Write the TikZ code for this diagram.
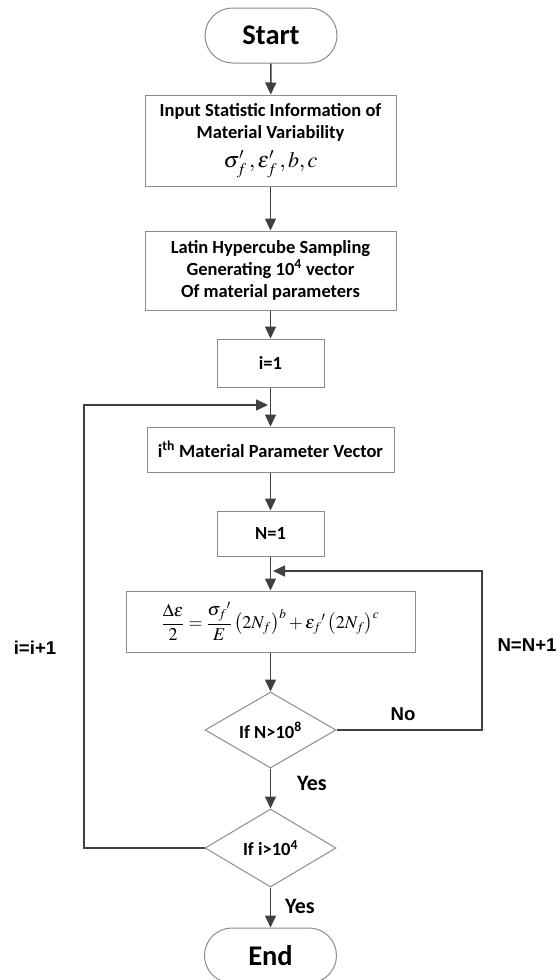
\documentclass[tikz,border=0pt]{standalone}
\usepackage{amsmath}
\usepackage{mathptmx}
\usepackage{fontspec}
\setmainfont{Carlito}
\newfontfamily\arialfont{Liberation Sans}
\usepackage{tikz}
\usetikzlibrary{shapes, arrows.meta, positioning, backgrounds}
\definecolor{boxgray}{HTML}{8C8C8C}
\definecolor{linegray}{HTML}{404040}
\tikzstyle{block} = [rectangle, minimum width=107pt, minimum height=48pt, text centered, align=center, draw=boxgray, line width=1pt, fill=white, font=\fontsize{18.5}{22}\selectfont\bfseries]
\tikzstyle{terminal} = [block, minimum width=132pt, minimum height=55pt, rounded corners=27.5pt, font=\fontsize{28.5}{30}\selectfont\bfseries]
\tikzstyle{decision} = [diamond, aspect=1.72, minimum width=131pt, minimum height=76pt, inner sep=0pt, draw=boxgray, line width=1pt, fill=white, font=\fontsize{18.5}{20}\selectfont\bfseries]
\tikzstyle{arrow} = [-{Triangle[length=12pt, width=11pt]}, draw=linegray, line width=1.5pt]
\tikzstyle{looplabel} = [font=\arialfont\fontsize{18.6}{20}\selectfont\bfseries]
\tikzstyle{yeslabel} = [font=\fontsize{22}{24}\selectfont\bfseries]

\begin{document}
\begin{tikzpicture}[x=1pt, y=-1pt]

    \fill [white] (0, 0) rectangle (558, 980);
    \useasboundingbox (0, 0) rectangle (558, 980);

    \node (start) [terminal] at (271, 35.5) {Start};
    \node (input) [block, minimum width=251pt, minimum height=91pt] at (270.5, 140.5)
        {Input Statistic Information of\\Material Variability\\[7pt]
         {\fontsize{22}{24}\selectfont$\sigma'_f\,,\varepsilon'_f\,,b,c$}};
    \node (lhs) [block, minimum width=251pt, minimum height=79pt] at (270.5, 270.5)
        {Latin Hypercube Sampling\\Generating 10\textsuperscript{4} vector\\Of material parameters};
    \node (initi) [block] at (270.5, 363) {i=1};
    \node (vector) [block, minimum width=247pt, minimum height=45pt] at (270.5, 449.5)
        {i\textsuperscript{th} Material Parameter Vector};
    \node (initN) [block, minimum height=45pt] at (270.5, 533.5) {N=1};
    \node (life) [block, minimum width=289pt, minimum height=61pt] at (270.5, 621.5)
        {\fontsize{18}{20}\selectfont$\dfrac{\Delta\varepsilon}{2}=\dfrac{\sigma_f{}'}{E}\left(2N_f\right)^b+\varepsilon_f{}'\left(2N_f\right)^c$};
    \node (checkN) [decision] at (270.5, 730) {If N>10\textsuperscript{8}};
    \node (checki) [decision, minimum height=78pt] at (270.5, 848) {If i>10\textsuperscript{4}};
    \node (end) [terminal] at (270.5, 955.5) {End};

    \coordinate (Nright) at (482, 650);
    \coordinate (Ntip) at (273, 571);
    \coordinate (ileft) at (84, 650);
    \coordinate (itip) at (268, 405);

    \draw [arrow] (start) -- (input);
    \draw [arrow] (input) -- (lhs);
    \draw [arrow] (lhs) -- (initi);
    \draw [arrow] (initi) -- (vector);
    \draw [arrow] (vector) -- (initN);
    \draw [arrow] (initN) -- (life);
    \draw [arrow] (life) -- (checkN);
    \draw [arrow] (checkN) -- (checki);
    \draw [arrow] (checki) -- (end);

    \draw [arrow] (checkN.east) -| (Nright) |- (Ntip);
    \draw [arrow] (checki.west) -| (ileft) |- (itip);

    \node (no) [looplabel] at (403, 714) {No};
    \node (Nplus) [looplabel] at (527, 645) {N=N+1};
    \node (iplus) [looplabel] at (35, 648) {i=i+1};
    \node (yesN) [yeslabel] at (312, 783) {Yes};
    \node (yesi) [yeslabel] at (300, 906) {Yes};

\end{tikzpicture}
\end{document}
